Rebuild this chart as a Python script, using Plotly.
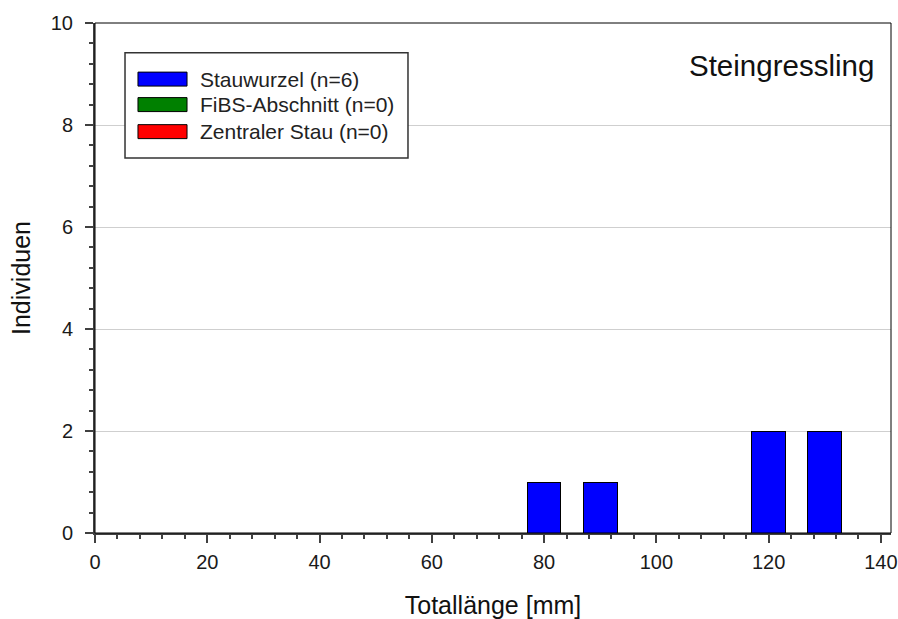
import plotly.graph_objects as go

# Data
bin_centers = [10, 20, 30, 40, 50, 60, 70, 80, 90, 100, 110, 120, 130, 140]
stauwurzel = [0, 0, 0, 0, 0, 0, 0, 1, 1, 0, 0, 2, 2, 0]
fibs = [0] * 14
zentral = [0] * 14
series_names = ["Stauwurzel", "FiBS-Abschnitt", "Zentraler Stau"]
series_values = [stauwurzel, fibs, zentral]
series_colors = ["#0000FF", "#008000", "#FF0000"]
title_text = "Steingressling"
x_title = "Totallänge [mm]"
y_title = "Individuen"

FONT = "Liberation Sans, Arial, sans-serif"
fig = go.Figure()
for name, vals, col in zip(series_names, series_values, series_colors):
    fig.add_trace(go.Bar(x=bin_centers, y=vals, width=6, name=name,
                         marker=dict(color=col, line=dict(color="black", width=1)),
                         showlegend=False))

fig.update_layout(
    width=898, height=619,
    margin=dict(l=95, r=7, t=23, b=86),
    paper_bgcolor="white", plot_bgcolor="white",
    barmode="stack",
    font=dict(family=FONT, color="#1a1a1a", size=20),
)
fig.update_xaxes(range=[0, 141.8], tick0=0, dtick=20, ticks="outside", ticklen=8,
                 tickwidth=1.5, tickcolor="#404040", automargin=False,
                 minor=dict(dtick=4, ticks="outside", ticklen=4, tickcolor="#404040", tickwidth=1.5),
                 showline=True, linecolor="#404040", linewidth=2, showgrid=False, zeroline=False,
                 tickfont=dict(size=20), ticklabelstandoff=2,
                 title=dict(text=x_title, font=dict(size=25, color="#111111"), standoff=26))
fig.update_yaxes(range=[0, 10], tick0=0, dtick=2, ticks="outside", ticklen=8,
                 tickwidth=1.5, tickcolor="#404040", automargin=False,
                 minor=dict(dtick=0.4, ticks="outside", ticklen=4, tickcolor="#404040", tickwidth=1.5),
                 showline=True, linecolor="#404040", linewidth=2,
                 showgrid=True, gridcolor="#CFCFCF", gridwidth=1, zeroline=False,
                 tickfont=dict(size=20), ticklabelstandoff=8,
                 title=dict(text=y_title, font=dict(size=25, color="#111111"), standoff=13))

# plot frame (top / right)
fig.add_shape(type="rect", xref="x domain", yref="y domain", x0=0, x1=1, y0=0, y1=1,
              line=dict(color="black", width=1), layer="above")

# title
fig.add_annotation(text=title_text, xref="x domain", yref="y domain", x=0.981, y=0.916,
                   xanchor="right", yanchor="middle", showarrow=False,
                   font=dict(size=29.5, color="#111111", family=FONT))

# custom legend
fig.add_shape(type="rect", xref="x domain", yref="y domain", x0=0.0377, x1=0.3932,
              y0=0.7353, y1=0.9418, line=dict(color="#333333", width=1.5),
              fillcolor="white", layer="above")
ycs = [0.890, 0.840, 0.787]
for name, vals, col, yc in zip(series_names, series_values, series_colors, ycs):
    fig.add_shape(type="rect", xref="x domain", yref="y domain", x0=0.054, x1=0.1156,
                  y0=yc - 0.0137, y1=yc + 0.0137, line=dict(color="black", width=1),
                  fillcolor=col, layer="above")
    fig.add_annotation(text=f"{name} (n={sum(vals)})", xref="x domain", yref="y domain",
                       x=0.1294, y=yc, xanchor="left", yanchor="middle", showarrow=False,
                       font=dict(size=21, color="#222222", family=FONT))

fig.write_html("out.html", config={"displayModeBar": False},
               post_script="document.body.style.margin='0';document.body.style.overflow='hidden';")
